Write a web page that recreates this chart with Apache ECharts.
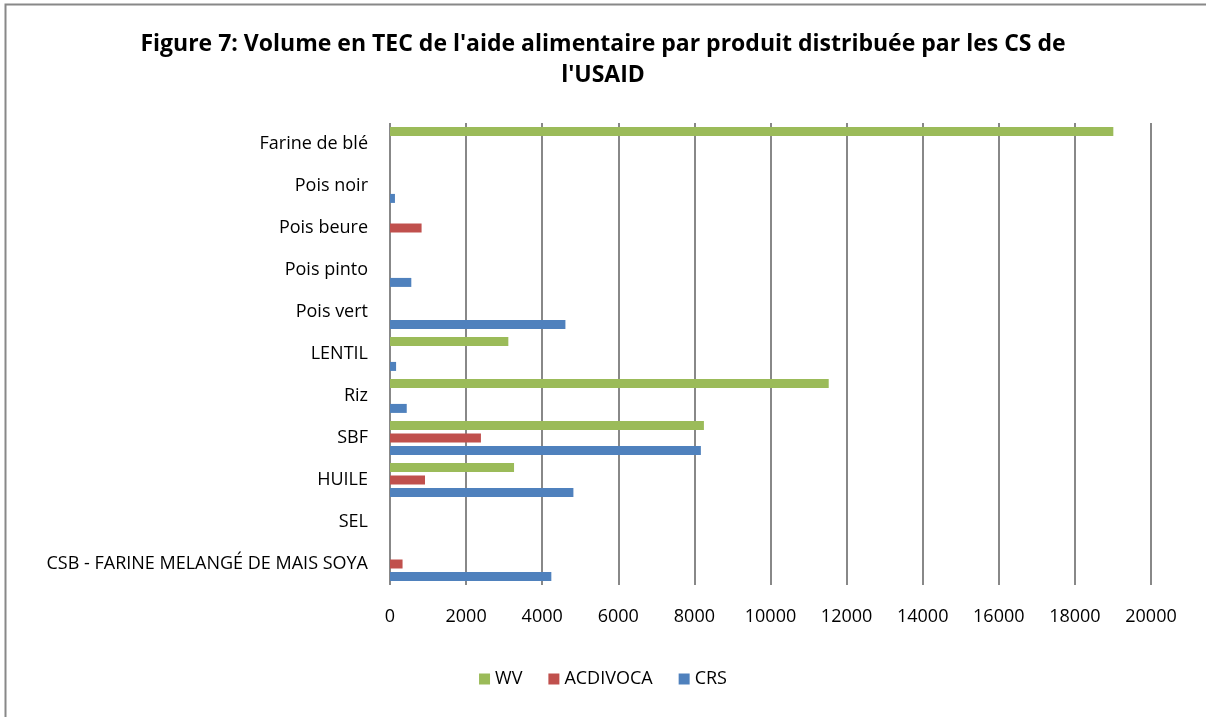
<!DOCTYPE html>
<html>
<head>
<meta charset="utf-8">
<script src="https://cdn.jsdelivr.net/npm/echarts@6/dist/echarts.min.js"></script>
<style>
  html, body { margin: 0; padding: 0; background: #fff; }
  #chart { width: 1206px; height: 717px; }
</style>
</head>
<body>
<div id="chart"></div>
<script>
// categories, bottom to top as ECharts draws them
const produits = ['CSB - FARINE MELANGÉ DE MAIS SOYA', 'SEL', 'HUILE', 'SBF', 'Riz', 'LENTIL',
  'Pois vert', 'Pois pinto', 'Pois beure', 'Pois noir', 'Farine de blé']
// volumes en TEC
const crs = [4240, 0, 4820, 8170, 440, 160, 4610, 560, 0, 130, 0]
const acdivoca = [330, 0, 920, 2390, 0, 0, 0, 0, 830, 0, 0]
const wv = [0, 0, 3260, 8250, 11530, 3110, 0, 0, 0, 0, 19010]
const legendOrder = ['WV', 'ACDIVOCA', 'CRS']
const titreLignes = ["Figure 7: Volume en TEC de l'aide alimentaire par produit distribuée par les CS de", "l'USAID"]

const font = 'Open Sans, Liberation Sans, sans-serif'
let myChart = echarts.init(document.getElementById('chart'))

const barStyle = (name, data, color) => ({
  name, type: 'bar', data,
  barWidth: 9, barGap: '38%',
  itemStyle: { color },
  silent: true
})

myChart.setOption({
  animation: false,
  backgroundColor: '#fff',
  title: titreLignes.map((t, i) => ({
    text: t,
    left: 'center', top: 28 + i * 31,
    textStyle: { fontFamily: font, fontSize: 23, fontWeight: 'bold', color: '#000' }
  })),
  legend: {
    data: legendOrder,
    bottom: 24, left: 'center',
    itemWidth: 11, itemHeight: 11, itemGap: 26,
    icon: 'rect',
    textStyle: { fontFamily: font, fontSize: 18, color: '#000' }
  },
  grid: { left: 390, right: 55, top: 123, bottom: 132 },
  xAxis: {
    type: 'value', min: 0, max: 20000, interval: 2000,
    axisLine: { show: false }, axisTick: { show: false },
    splitLine: { lineStyle: { color: '#888', width: 2 } },
    axisLabel: { fontFamily: font, fontSize: 18, color: '#000', margin: 23, formatter: v => String(v) }
  },
  yAxis: {
    type: 'category', data: produits,
    axisLine: { show: false }, axisTick: { show: false },
    axisLabel: { fontFamily: font, fontSize: 18, color: '#000', margin: 22 }
  },
  series: [
    barStyle('WV', wv, '#9BBB59'),
    barStyle('ACDIVOCA', acdivoca, '#C0504D'),
    barStyle('CRS', crs, '#4F81BD')
  ],
  graphic: [{
    type: 'rect', left: 3, top: 2,
    shape: { width: 1202, height: 716 },
    style: { fill: 'none', stroke: '#888', lineWidth: 2 },
    silent: true
  }]
})
window.onresize = () => { myChart.resize() }
</script>
</body>
</html>
